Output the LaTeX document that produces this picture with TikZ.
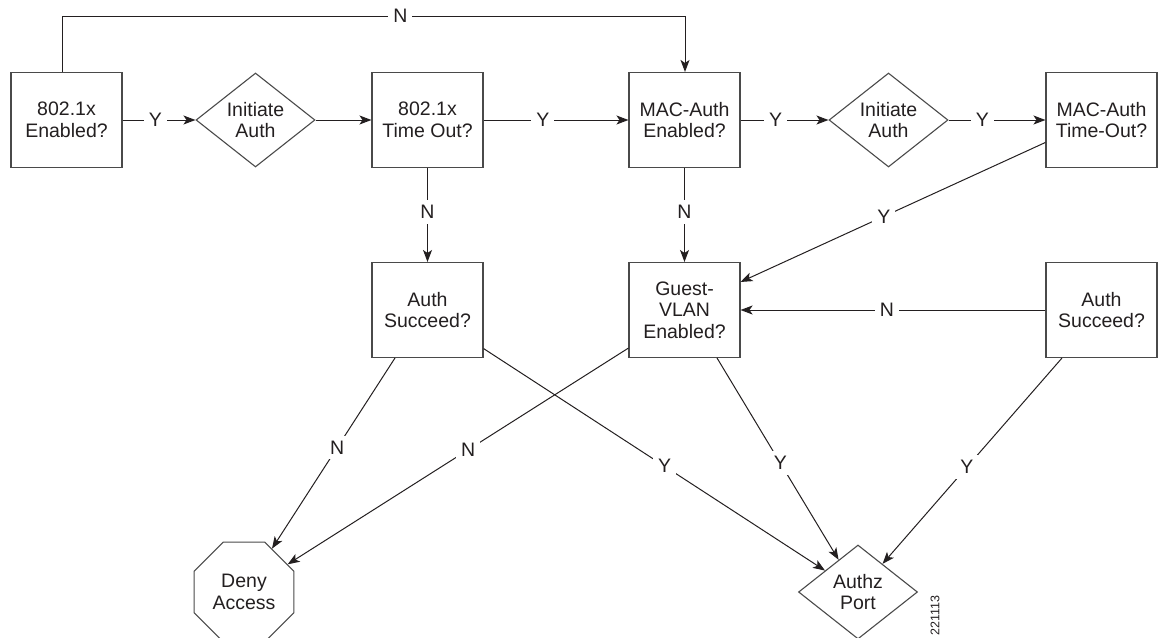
\documentclass[tikz,border=0pt]{standalone}
\usepackage{fontspec}
\setmainfont{Liberation Sans}
\usetikzlibrary{shapes.geometric,arrows.meta,calc}
\definecolor{ink}{HTML}{231F20}
\definecolor{edge}{HTML}{4A4A4A}
\begin{document}
\begin{tikzpicture}[x=1pt,y=-1pt,
  every node/.style={font=\fontsize{19.5}{21.5}\selectfont, text=ink},
  box/.style={draw=edge, line width=1.1pt, rectangle, minimum width=111pt, minimum height=95pt, inner sep=0pt, align=center},
  dia/.style={draw=edge, line width=1.1pt, diamond, aspect=1.27, minimum width=119pt, minimum height=94pt, inner sep=0pt, align=center},
  oct/.style={draw=edge, line width=1.1pt, regular polygon, regular polygon sides=8, minimum size=108pt, inner sep=0pt, align=center},
  arr/.style={draw=ink, line width=1pt, -{Stealth[length=12pt,width=9pt,inset=3pt]}},
  lbl/.style={fill=white, inner sep=5pt}
]
\useasboundingbox (0,0) rectangle (1158,637);

\node[box] (b1) at (66.5,120) {802.1x\\Enabled?};
\node[dia] (d1) at (255.5,120) {Initiate\\Auth};
\node[box] (b2) at (427.5,120) {802.1x\\Time Out?};
\node[box] (b3) at (684.5,120) {MAC-Auth\\Enabled?};
\node[dia] (d2) at (888.5,120) {Initiate\\Auth};
\node[box] (b4) at (1101.5,120) {MAC-Auth\\Time-Out?};
\node[box] (as1) at (427.5,310) {Auth\\Succeed?};
\node[box] (gv) at (684.5,310) {Guest-\\VLAN\\Enabled?};
\node[box] (as2) at (1101.5,310) {Auth\\Succeed?};
\node[oct] (deny) at (244,592) {Deny\\Access};
\node[dia] (authz) at (858,592) {Authz\\Port};
\node[rotate=90, anchor=east, inner sep=0pt, font=\fontsize{12.5}{14}\selectfont] (id) at (935,595) {221113};

\coordinate (t1) at (62,16);
\coordinate (t2) at (685,16);
\draw[arr] (b1.north -| t1) -- (t1) -- node[lbl,pos=0.543]{N} (t2) -- (b3.north -| t2);
\draw[arr] (b1) -- node[lbl,pos=0.45]{Y} (d1);
\draw[arr] (d1) -- (b2);
\draw[arr] (b2) -- node[lbl,pos=0.41]{Y} (b3);
\draw[arr] (b3) -- node[lbl,pos=0.40]{Y} (d2);
\draw[arr] (d2) -- node[lbl,pos=0.35]{Y} (b4);
\draw[arr] (b2) -- node[lbl,pos=0.47]{N} (as1);
\draw[arr] (b3) -- node[lbl,pos=0.47]{N} (gv);
\draw[arr] ($(b4.north west)+(0,70.5)$) -- node[lbl,pos=0.53]{Y} ($(gv.north east)+(0,20)$);
\draw[arr] (as2) -- node[lbl,pos=0.52]{N} (gv);
\draw[arr] ($(as1.south west)+(23.5,0)$) -- node[lbl,pos=0.47]{N} (deny);
\draw[arr] ($(gv.south west)+(0,-10)$) -- node[lbl,pos=0.47]{N} (deny);
\draw[arr] ($(as1.south east)+(0,-9.5)$) -- node[lbl,pos=0.53]{Y} (authz);
\draw[arr] ($(gv.south east)+(-23.5,0)$) -- node[lbl,pos=0.52]{Y} (authz);
\draw[arr] ($(as2.south west)+(16.5,0)$) -- node[lbl,pos=0.53]{Y} (authz);
\end{tikzpicture}
\end{document}
